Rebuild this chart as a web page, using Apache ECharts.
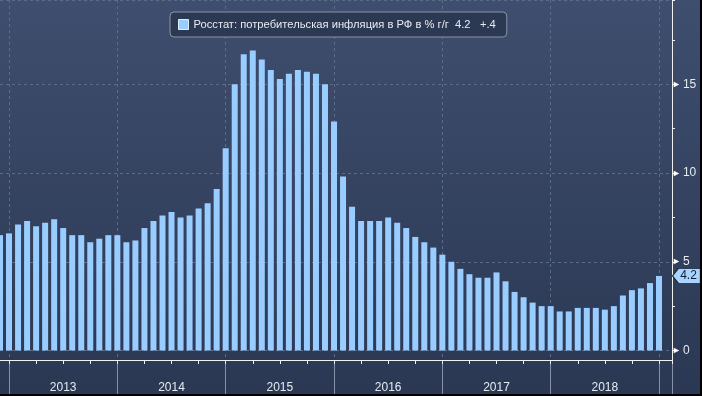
<!DOCTYPE html>
<html><head><meta charset="utf-8">
<script src="https://cdn.jsdelivr.net/npm/echarts@6/dist/echarts.min.js"></script>
<style>html,body{margin:0;padding:0;background:#000;overflow:hidden}#c{width:700px;height:394px}</style>
</head><body><div id="c"></div>
<script>
const seriesName = 'Росстат: потребительская инфляция в РФ в % г/г';
const months = [
 '2012-11','2012-12',
 '2013-01','2013-02','2013-03','2013-04','2013-05','2013-06','2013-07','2013-08','2013-09','2013-10','2013-11','2013-12',
 '2014-01','2014-02','2014-03','2014-04','2014-05','2014-06','2014-07','2014-08','2014-09','2014-10','2014-11','2014-12',
 '2015-01','2015-02','2015-03','2015-04','2015-05','2015-06','2015-07','2015-08','2015-09','2015-10','2015-11','2015-12',
 '2016-01','2016-02','2016-03','2016-04','2016-05','2016-06','2016-07','2016-08','2016-09','2016-10','2016-11','2016-12',
 '2017-01','2017-02','2017-03','2017-04','2017-05','2017-06','2017-07','2017-08','2017-09','2017-10','2017-11','2017-12',
 '2018-01','2018-02','2018-03','2018-04','2018-05','2018-06','2018-07','2018-08','2018-09','2018-10','2018-11','2018-12'
];
const values = [
 6.5, 6.6,
 7.1, 7.3, 7.0, 7.2, 7.4, 6.9, 6.5, 6.5, 6.1, 6.3, 6.5, 6.5,
 6.1, 6.2, 6.9, 7.3, 7.6, 7.8, 7.5, 7.6, 8.0, 8.3, 9.1, 11.4,
 15.0, 16.7, 16.9, 16.4, 15.8, 15.3, 15.6, 15.8, 15.7, 15.6, 15.0, 12.9,
 9.8, 8.1, 7.3, 7.3, 7.3, 7.5, 7.2, 6.9, 6.4, 6.1, 5.8, 5.4,
 5.0, 4.6, 4.3, 4.1, 4.1, 4.4, 3.9, 3.3, 3.0, 2.7, 2.5, 2.5,
 2.2, 2.2, 2.4, 2.4, 2.4, 2.3, 2.5, 3.1, 3.4, 3.5, 3.8, 4.2
];
const yearLabels = ['2013','2014','2015','2016','2017','2018'];
const yMajorTicks = [0, 5, 10, 15];

// month index: 0 = end of Dec 2012 (start of 2013)
function monthIndex(s){ const p = s.split('-').map(Number); return (p[0]-2013)*12 + p[1]; }
const data = months.map((m,i)=>[monthIndex(m), values[i]]);
const last = values[values.length-1], prev = values[values.length-2];
const d = last - prev;
const chgStr = (d >= 0 ? '+' : '-') + Math.abs(d).toFixed(1).replace(/^0\./, '.');

const STEP = 9.027;
const X_MAX = 73.44, Y_MAX = 19.75;
const FONT = 'Liberation Sans';
const gridColor = '#5b6b88';
const white = '#f0f0f0';
const hiddenAxis = {axisLine:{show:false}, axisTick:{show:false}, axisLabel:{show:false}, splitLine:{show:false}};

const chart = echarts.init(document.getElementById('c'), null, {renderer:'canvas'});
chart.setOption({
  animation: false,
  backgroundColor: {type:'linear', x:0, y:0, x2:0, y2:1, colorStops:[{offset:0,color:'#3f4e6e'},{offset:1,color:'#2a3853'}]},
  legend: {
    left: 170, top: 12, padding: [7, 11, 7, 8], itemWidth: 10, itemHeight: 10, icon: 'rect',
    backgroundColor: '#2c3952', borderColor: '#8a93a6', borderWidth: 1, borderRadius: 4,
    textStyle: {color:'#e6ebf3', fontSize: 11.2, fontFamily: FONT},
    itemStyle: {borderColor:'#e0efff', borderWidth: 1},
    formatter: n => n + '  ' + last.toFixed(1) + '   ' + chgStr
  },
  grid: [
    {left: 0, right: 28, top: 0, bottom: 43.5, outerBoundsMode:'none'},
    {left: STEP, right: 28, top: 0, bottom: 34, outerBoundsMode:'none'},
    {left: 0, right: 28, top: 0, bottom: 34, outerBoundsMode:'none'},
    {left: STEP, right: 28, top: 0, bottom: 34, outerBoundsMode:'none'}
  ],
  xAxis: [
    Object.assign({type:'value', gridIndex:0, position:'bottom', min:-1, max:X_MAX}, hiddenAxis),
    {type:'value', gridIndex:1, position:'bottom', min:0, max:X_MAX, interval:12,
     axisLine:{show:false}, axisTick:{show:false}, axisLabel:{show:false},
     splitLine:{show:true, lineStyle:{color:gridColor, type:[3,3], width:1}}},
    {type:'value', gridIndex:2, position:'bottom', min:-1, max:X_MAX, z:3,
     axisLine:{show:true, onZero:false, lineStyle:{color:white, width:1}},
     axisTick:{show:false}, axisLabel:{show:false}, splitLine:{show:false}},
    {type:'value', gridIndex:3, position:'bottom', min:0, max:X_MAX, interval:12, z:1,
     axisLine:{show:false}, axisTick:{show:true, length:40, lineStyle:{color:'#8892a6', width:1}},
     axisLabel:{show:false}, splitLine:{show:false}},
    {type:'value', gridIndex:3, position:'bottom', offset:0, min:0, max:X_MAX, interval:3, z:4,
     axisLine:{show:false},
     axisTick:{show:true, length:4, lineStyle:{color:white, width:1}},
     axisLabel:{show:true, margin:22, color:'#e6ebf3', fontSize:12, fontFamily:FONT,
       formatter: v => { const r = ((v % 12) + 12) % 12; if (Math.abs(r-6) < 1e-6) { return yearLabels[Math.round((v-6)/12)] || ''; } return ''; }},
     splitLine:{show:false}}
  ],
  yAxis: [
    {type:'value', gridIndex:0, position:'right', min:0, max:Y_MAX, interval:5,
     axisLine:{show:false}, axisTick:{show:false},
     axisLabel:{show:true, margin:0, color:'#e6ebf3', fontSize:12, fontFamily:FONT,
       formatter: v => yMajorTicks.indexOf(v) >= 0 ? '{t|►}{v|' + v + '}' : '',
       rich:{t:{fontSize:9, color:'#ffffff', fontFamily:FONT, padding:[0,2,0,0]}, v:{fontSize:12, color:'#e6ebf3', fontFamily:FONT}}},
     splitLine:{show:true, lineStyle:{color:gridColor, type:[3,3], width:1}}},
    {type:'value', gridIndex:0, position:'right', min:0, max:Y_MAX, interval:2.5,
     axisLine:{show:false}, axisTick:{show:true, length:3, lineStyle:{color:white}},
     axisLabel:{show:false}, splitLine:{show:false}},
    Object.assign({type:'value', gridIndex:1, position:'right', min:0, max:1}, hiddenAxis),
    {type:'value', gridIndex:2, position:'right', min:0, max:1,
     axisLine:{show:true, onZero:false, lineStyle:{color:white, width:1}}, axisTick:{show:false},
     axisLabel:{show:false}, splitLine:{show:false}},
    Object.assign({type:'value', gridIndex:3, position:'right', min:0, max:1}, hiddenAxis)
  ],
  series: [{
    type:'bar', name: seriesName, xAxisIndex:0, yAxisIndex:0, data: data, barWidth: 6,
    itemStyle:{color:'#99ccff'},
    markPoint:{
      symbol:'path://M0,7L6,0L28,0L28,14L6,14Z', symbolSize:[28,15], symbolOffset:[27.5,0], symbolKeepAspect:false,
      itemStyle:{color:'#a9d4ff', borderColor:'#1c2840', borderWidth:1},
      label:{show:true, position:'inside', offset:[2,0], color:'#14203a', fontSize:12, fontFamily:FONT, formatter: () => last.toFixed(1)},
      data:[{coord: data[data.length-1], value: last}]
    }
  }]
});
</script></body></html>
